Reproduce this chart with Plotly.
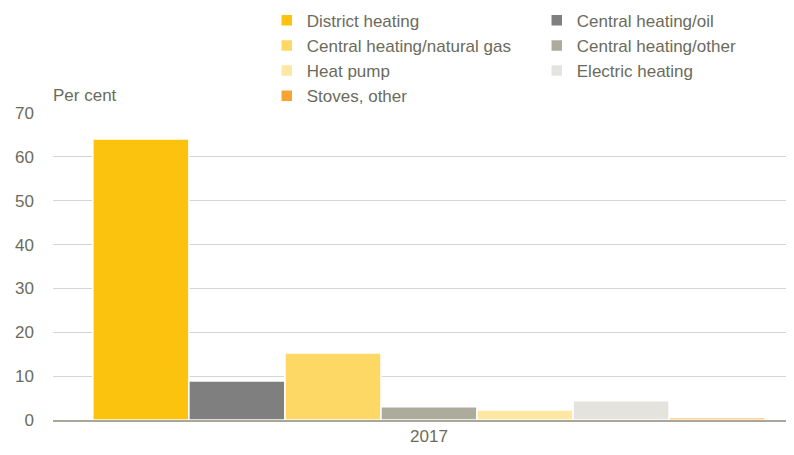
import plotly.graph_objects as go

categories = ["2017"]
series_names = ["District heating", "Central heating/oil", "Central heating/natural gas",
                "Central heating/other", "Heat pump", "Electric heating", "Stoves, other"]
series_values = [64.1, 8.9, 15.3, 3.0, 2.3, 4.4, 0.5]
series_colors = ["#FBC30E", "#7F7F7F", "#FDD865", "#ADAB9C", "#FDE7A3", "#E4E3DE", "#F8A431"]
y_ticks = [0, 10, 20, 30, 40, 50, 60, 70]

text_color = "#6B6B5C"
font_family = "Liberation Sans, Arial, sans-serif"

fig = go.Figure()
for name, val, col in zip(series_names, series_values, series_colors):
    fig.add_trace(go.Bar(
        x=categories, y=[val], name=name,
        marker=dict(color=col, line=dict(color="white", width=1.5)),
    ))

# the page body has an 8px margin; figure sized to fit the 794x455 window
fig.update_layout(
    width=786, height=447,
    barmode="group", bargap=0.106, bargroupgap=0,
    plot_bgcolor="white", paper_bgcolor="white",
    margin=dict(l=45, r=0, t=105, b=35, autoexpand=False),
    font=dict(family=font_family, size=17, color=text_color),
    legend=dict(
        orientation="h", xref="paper", yref="paper",
        x=0.2885, y=1.359, xanchor="left", yanchor="top",
        entrywidth=225, entrywidthmode="pixels",
        font=dict(size=17, color=text_color),
        itemwidth=30, tracegroupgap=0,
    ),
    showlegend=True,
)
fig.update_yaxes(
    range=[0, 70], tickvals=y_ticks, showgrid=True, gridcolor="#D6D5CF", gridwidth=1,
    zeroline=False, showline=False, ticks="", ticklabelstandoff=18,
    tickfont=dict(size=17, color=text_color),
)
fig.update_xaxes(
    range=[-0.5, 0.4854],
    showline=True, linecolor="#A8A798", linewidth=1.5, ticks="",
    tickfont=dict(size=17, color=text_color),
)
fig.add_annotation(
    text="Per cent", xref="paper", yref="paper", x=0, y=1, xanchor="left", yanchor="bottom",
    xshift=-2, yshift=6, showarrow=False, font=dict(size=17, color=text_color),
)

fig.write_html("out.html")
